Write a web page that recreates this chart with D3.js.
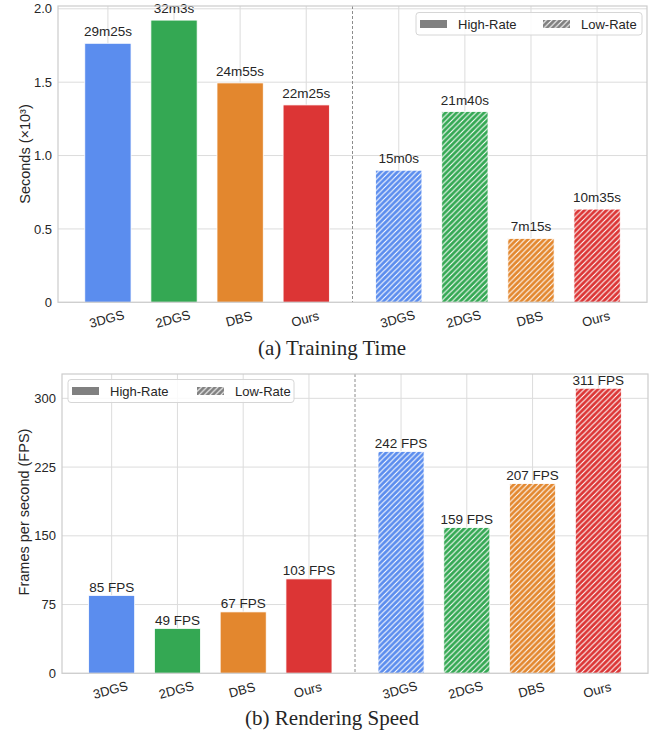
<!DOCTYPE html>
<html><head><meta charset="utf-8">
<script src="https://cdn.jsdelivr.net/npm/d3@7"></script>
<style>
html,body{margin:0;padding:0;background:#fff;}
svg{display:block;}
text{font-family:"Liberation Sans",Arial,sans-serif;fill:#262626;}
</style></head><body>
<svg id="chart" width="657" height="736"></svg>
<script>
// ---- data ----
const methods = ["3DGS", "2DGS", "DBS", "Ours"];
const colors = ["#5B8DEE", "#34A853", "#E3872E", "#DC3535"];
const trainHighSec = [1765, 1923, 1495, 1345];
const trainLowSec = [900, 1300, 435, 635];
const trainHighLabels = ["29m25s", "32m3s", "24m55s", "22m25s"];
const trainLowLabels = ["15m0s", "21m40s", "7m15s", "10m35s"];
const trainTicks = [0, 0.5, 1.0, 1.5, 2.0];
const trainTickLabels = ["0", "0.5", "1.0", "1.5", "2.0"];
const fpsHigh = [85, 49, 67, 103];
const fpsLow = [242, 159, 207, 311];
const fpsTicks = [0, 75, 150, 225, 300];
const fpsTickLabels = ["0", "75", "150", "225", "300"];
const highPos = [0, 1, 2, 3];
const lowPos = [4.4, 5.4, 6.4, 7.4];
const legendLabels = ["High-Rate", "Low-Rate"];

const svg = d3.select("#chart");
const defs = svg.append("defs");
const hatchColors = colors.concat(["#808080"]);
const hs = 5.5;
hatchColors.forEach((c, i) => {
  const p = defs.append("pattern").attr("id", "hatch" + i)
    .attr("patternUnits", "userSpaceOnUse").attr("width", hs).attr("height", hs);
  p.append("rect").attr("width", hs).attr("height", hs).attr("fill", c);
  p.append("path").attr("d", `M0,${hs} L${hs},0 M-1,1 L1,-1 M${hs-1},${hs+1} L${hs+1},${hs-1}`)
    .attr("stroke", "#fff").attr("stroke-width", 1.1);
});

function panel(cfg) {
  const g = svg.append("g");
  const x = d3.scaleLinear().domain([-0.755, 8.155]).range([cfg.left, cfg.right]);
  const y = d3.scaleLinear().domain([0, cfg.ymax]).range([cfg.bottom, cfg.top]);
  // grid
  const allPos = highPos.concat(lowPos);
  g.append("g").selectAll("line").data(allPos).join("line")
    .attr("x1", d => x(d)).attr("x2", d => x(d))
    .attr("y1", cfg.top).attr("y2", cfg.bottom)
    .attr("stroke", "#dcdcdc").attr("stroke-width", 1);
  g.append("g").selectAll("line").data(cfg.ticks).join("line")
    .attr("x1", cfg.left).attr("x2", cfg.right)
    .attr("y1", d => y(d)).attr("y2", d => y(d))
    .attr("stroke", "#dcdcdc").attr("stroke-width", 1);
  // y axis labels via d3 axis
  const yAxis = d3.axisLeft(y).tickValues(cfg.ticks)
    .tickFormat((d, i) => cfg.tickLabels[i]).tickSize(0).tickPadding(6);
  const ya = g.append("g").attr("transform", `translate(${cfg.left},0)`).call(yAxis);
  ya.select(".domain").remove();
  ya.selectAll("text").style("font-size", "13px").attr("fill", "#262626");
  // separator
  g.append("line").attr("x1", x(3.7)).attr("x2", x(3.7))
    .attr("y1", cfg.top).attr("y2", cfg.bottom)
    .attr("stroke", "#8c8c8c").attr("stroke-width", 1).attr("stroke-dasharray", "3,2");
  // bars
  const bw = x(0.7) - x(0);
  const bars = [];
  methods.forEach((m, i) => {
    bars.push({pos: highPos[i], v: cfg.high[i], lab: cfg.highLabels[i], fill: colors[i]});
  });
  methods.forEach((m, i) => {
    bars.push({pos: lowPos[i], v: cfg.low[i], lab: cfg.lowLabels[i], fill: `url(#hatch${i})`});
  });
  g.append("g").selectAll("rect").data(bars).join("rect")
    .attr("x", d => x(d.pos) - bw / 2).attr("width", bw)
    .attr("y", d => y(d.v)).attr("height", d => y(0) - y(d.v))
    .attr("fill", d => d.fill).attr("stroke", "#fff").attr("stroke-width", 0.8);
  g.append("g").selectAll("text").data(bars).join("text")
    .attr("x", d => x(d.pos)).attr("y", d => y(d.v) - cfg.labGap)
    .attr("text-anchor", "middle").style("font-size", "13.5px").text(d => d.lab);
  // frame
  g.append("rect").attr("x", cfg.left).attr("y", cfg.top)
    .attr("width", cfg.right - cfg.left).attr("height", cfg.bottom - cfg.top)
    .attr("fill", "none").attr("stroke", "#cccccc").attr("stroke-width", 1.2);
  // x tick labels
  const names = methods.concat(methods);
  g.append("g").selectAll("text").data(allPos).join("text")
    .attr("transform", (d) => `translate(${x(d)},${cfg.bottom + 21}) rotate(-15)`)
    .attr("text-anchor", "middle").style("font-size", "13px")
    .text((d, i) => names[i]);
  // y label
  g.append("text").attr("transform", `translate(${cfg.ylabX},${cfg.ylabY}) rotate(-90)`)
    .attr("text-anchor", "middle").style("font-size", "14.5px").text(cfg.ylabel);
  // caption
  g.append("text").attr("x", 332).attr("y", cfg.capY).attr("text-anchor", "middle")
    .style("font-family", "'Linux Libertine','Liberation Serif',serif")
    .style("font-size", "21px").attr("fill", "#111").text(cfg.caption);
  // legend
  const L = cfg.legend;
  const lg = g.append("g");
  lg.append("rect").attr("x", L.x).attr("y", L.y).attr("width", L.w).attr("height", L.h)
    .attr("rx", 3).attr("fill", "#fff").attr("fill-opacity", 0.85)
    .attr("stroke", "#d6d6d6").attr("stroke-width", 1);
  [0, 1].forEach(k => {
    const px = L.x + L.items[k];
    lg.append("rect").attr("x", px).attr("y", L.y + 7.5).attr("width", 27).attr("height", 8)
      .attr("fill", k === 0 ? "#808080" : "url(#hatch4)");
    lg.append("text").attr("x", px + 38).attr("y", L.y + 16.5)
      .style("font-size", "13px").text(legendLabels[k]);
  });
}

panel({
  left: 58, right: 647, top: 6, bottom: 302.3,
  ymax: d3.max(trainHighSec) / 1000 * 1.05,
  ticks: trainTicks, tickLabels: trainTickLabels,
  high: trainHighSec.map(v => v / 1000), low: trainLowSec.map(v => v / 1000),
  highLabels: trainHighLabels, lowLabels: trainLowLabels,
  labGap: 7, ylabel: "Seconds (×10³)", ylabX: 30, ylabY: 154,
  caption: "(a) Training Time", capY: 355,
  legend: {x: 416, y: 12.5, w: 226, h: 22.5, items: [4, 127]}
});
panel({
  left: 62, right: 648, top: 374, bottom: 673.3,
  ymax: d3.max(fpsLow) * 1.05,
  ticks: fpsTicks, tickLabels: fpsTickLabels,
  high: fpsHigh, low: fpsLow,
  highLabels: fpsHigh.map(v => v + " FPS"), lowLabels: fpsLow.map(v => v + " FPS"),
  labGap: 3.5, ylabel: "Frames per second (FPS)", ylabX: 29, ylabY: 512,
  caption: "(b) Rendering Speed", capY: 725,
  legend: {x: 68, y: 379.5, w: 226, h: 23, items: [4, 129]}
});
</script>
</body></html>
